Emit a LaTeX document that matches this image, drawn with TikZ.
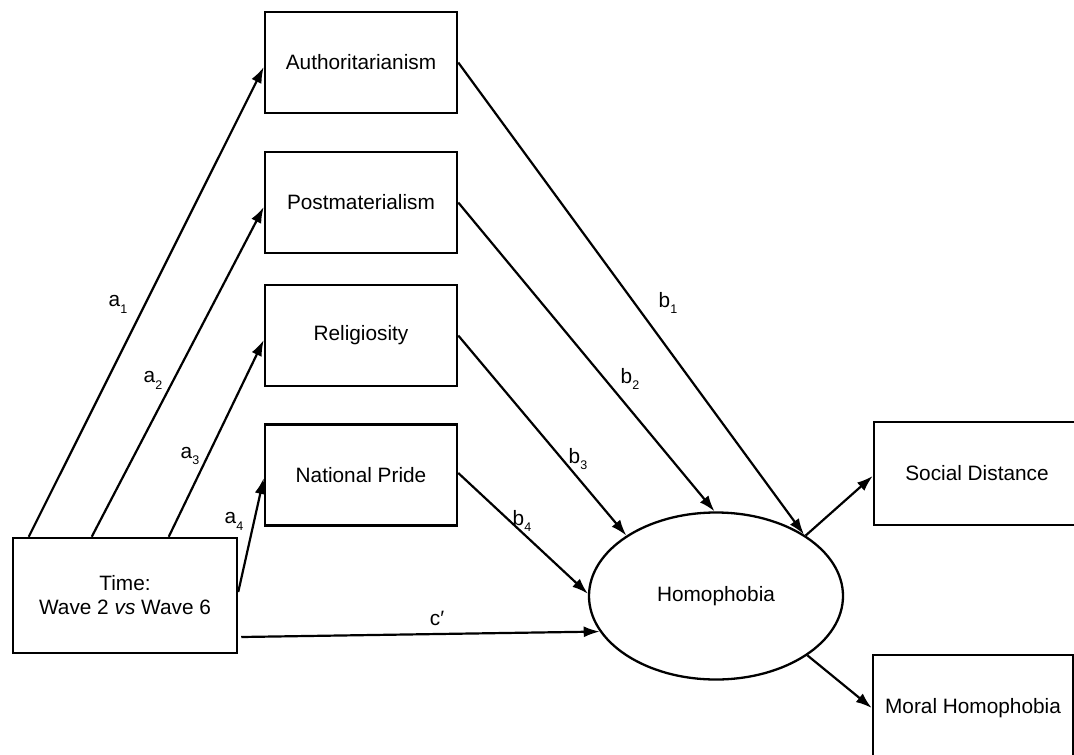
\documentclass[tikz,border=0pt]{standalone}
\usepackage{fontspec}
\setmainfont{Liberation Sans}
\usetikzlibrary{shapes.geometric,arrows.meta,calc}
% coefficient label with a lowered index
\newcommand{\coefsub}[2]{#1\raisebox{-0.33em}{\fontsize{12.5}{13}\selectfont #2}}
\begin{document}
\begin{tikzpicture}[x=1pt,y=-1pt,
  box/.style={draw,line width=2.5pt,minimum width=192pt,minimum height=101pt,
    inner sep=0pt,align=center,font=\fontsize{20.8}{24}\selectfont},
  latent/.style={draw,ellipse,line width=2.3pt,minimum width=254pt,minimum height=167pt,
    inner sep=0pt,font=\fontsize{20.8}{24}\selectfont},
  effect/.style={line width=2.2pt,-{Latex[length=16pt,width=11pt]}},
  coef/.style={inner sep=0pt,font=\fontsize{20.8}{24}\selectfont}
]
\useasboundingbox (0,0) rectangle (1074,755);
\clip (0,0) rectangle (1074,755);

% mediators
\node[box] (auth) at (361,62.5)  {Authoritarianism};
\node[box] (post) at (361,202.5) {Postmaterialism};
\node[box] (reli) at (361,335.5) {Religiosity};
\node[box] (prid) at (361,475)   {National Pride};

% predictor
\node[box,minimum width=224pt,minimum height=115pt] (time) at (125,595.5)
  {Time:\\Wave 2 \textit{vs} Wave 6};

% latent outcome and its indicators
\node[latent] (hom) at (716,596) {Homophobia};
\node[box,minimum width=206pt,minimum height=103pt] (soc) at (977,473.5) {Social Distance};
\node[box,minimum width=200pt,minimum height=106pt] (mor) at (973,708) {Moral Homophobia};

% a paths
\draw[effect] ([xshift=17pt]time.north west)  -- ([yshift=-4.5pt]auth.west);
\draw[effect] ([xshift=80pt]time.north west)  -- ([yshift=-4.5pt]post.west);
\draw[effect] ([xshift=157pt]time.north west) -- ([yshift=-4.5pt]reli.west);
\draw[effect] ([yshift=3.5pt]time.east)        -- ([yshift=-3pt]prid.west);

% direct path
\draw[effect] ([xshift=3pt,yshift=-41.5pt]time.east) -- (hom.197);

% b paths
\draw[effect] (auth.east) -- (hom.35);
\draw[effect] (post.east) -- (hom.91);
\draw[effect] (reli.east) -- (hom.146);
\draw[effect] ([yshift=2pt]prid.east) -- (hom.179);

% measurement paths
\draw[effect] (hom.34)  -- ([yshift=-2.5pt]soc.west);
\draw[effect] (hom.-33) -- (mor.west);

% coefficient labels
\node[coef] (la1) at (118,304) {\coefsub{a}{1}};
\node[coef] (la2) at (153,380) {\coefsub{a}{2}};
\node[coef] (la3) at (190,456) {\coefsub{a}{3}};
\node[coef] (la4) at (234,521) {\coefsub{a}{4}};
\node[coef] (lb1) at (668,303) {\coefsub{b}{1}};
\node[coef] (lb2) at (630,379) {\coefsub{b}{2}};
\node[coef] (lb3) at (578,459) {\coefsub{b}{3}};
\node[coef] (lb4) at (522,521) {\coefsub{b}{4}};
\node[coef] (lc)  at (437,618) {c′};
\end{tikzpicture}
\end{document}
